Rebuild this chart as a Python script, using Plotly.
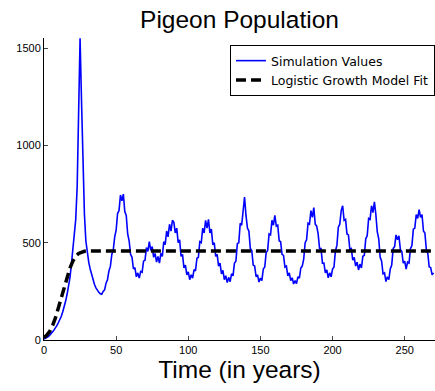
import plotly.graph_objects as go

# Simulation values, one per year (t = 0 .. 270)
years = list(range(0, 271))
sim_values = [
    5, 8, 12, 18, 25, 32, 42, 52, 62, 75,
    90, 105, 122, 145, 170, 200, 235, 270, 320, 390,
    480, 560, 620, 790, 1180, 1550, 1230, 880, 650, 510,
    450, 400, 365, 335, 305, 285, 268, 255, 245, 238,
    235, 250, 258, 292, 310, 355, 378, 440, 462, 530,
    565, 650, 665, 745, 715, 750, 660, 640, 545, 510,
    440, 425, 365, 372, 325, 345, 318, 352, 348, 405,
    410, 475, 455, 505, 460, 480, 425, 445, 400, 430,
    395, 445, 430, 505, 490, 560, 530, 595, 560, 615,
    605, 550, 575, 500, 515, 430, 440, 370, 385, 335,
    350, 310, 335, 318, 362, 355, 420, 425, 505, 500,
    575, 550, 615, 575, 620, 550, 570, 490, 500, 430,
    440, 380, 395, 340, 358, 310, 330, 295, 322, 300,
    340, 330, 395, 405, 495, 500, 600, 590, 680, 735,
    640, 575, 560, 470, 460, 385, 380, 325, 335, 298,
    318, 305, 365, 375, 450, 460, 545, 540, 615, 590,
    640, 585, 590, 510, 505, 440, 435, 375, 380, 330,
    345, 305, 320, 288, 305, 290, 325, 318, 370, 380,
    415, 500, 515, 600, 595, 665, 630, 680, 595, 585,
    545, 470, 470, 395, 395, 345, 360, 320, 345, 325,
    365, 375, 460, 485, 580, 595, 665, 690, 615, 620,
    545, 540, 465, 470, 410, 425, 380, 400, 360, 390,
    370, 430, 435, 520, 535, 625, 620, 690, 655, 710,
    645, 555, 520, 425, 405, 340, 345, 300, 325, 310,
    365, 385, 470, 480, 540, 515, 535, 465, 455, 395,
    405, 365, 400, 395, 470, 485, 570, 575, 645, 625,
    670, 630, 645, 560, 550, 465, 445, 375, 372, 335, 345,
]

# Logistic growth model fit
fit_years = [0, 2, 4, 6, 8, 10, 12, 14, 16, 18, 20, 22, 24, 26, 28, 30, 271]
fit_values = [12, 25, 45, 75, 115, 165, 220, 280, 330, 370, 405, 430, 445, 452, 456, 458, 458]

title_text = "Pigeon Population"
x_title = "Time (in years)"
x_ticks = [0, 50, 100, 150, 200, 250]
y_ticks = [0, 500, 1000, 1500]

fig = go.Figure()
fig.add_trace(go.Scatter(
    x=years, y=sim_values, mode="lines", name="Simulation Values",
    line=dict(color="#0000FF", width=1.6),
))
fig.add_trace(go.Scatter(
    x=fit_years, y=fit_values, mode="lines", name="Logistic Growth Model Fit",
    line=dict(color="black", width=3.5, dash="10px,5px"),
))

font_family = "Liberation Sans, Arial, sans-serif"

fig.update_layout(
    width=435, height=391,
    margin=dict(l=44, r=0, t=38, b=51),
    paper_bgcolor="white", plot_bgcolor="white",
    font=dict(family=font_family, color="black", size=11),
    title=dict(text=title_text, x=0.5, xref="paper", y=1 - 19 / 391, yref="container",
               xanchor="center", yanchor="middle", font=dict(size=24.5, color="black")),
    showlegend=True,
    legend=dict(x=1, xanchor="right", y=1 - 7 / 302, yanchor="top",
                bordercolor="black", borderwidth=1, bgcolor="white",
                font=dict(size=12.5, family="DejaVu Sans, sans-serif"),
                tracegroupgap=0, itemwidth=30),
    xaxis=dict(range=[0, 271], tickvals=x_ticks, ticks="inside", ticklen=4,
               showline=True, linecolor="black", linewidth=1, showgrid=False,
               zeroline=False, tickfont=dict(size=11),
               title=dict(text=x_title, font=dict(size=24.5), standoff=5)),
    yaxis=dict(range=[0, 1552], tickvals=y_ticks, ticks="inside", ticklen=4,
               showline=True, linecolor="black", linewidth=1, showgrid=False,
               zeroline=False, tickfont=dict(size=11)),
)

fig.write_html("out.html")
